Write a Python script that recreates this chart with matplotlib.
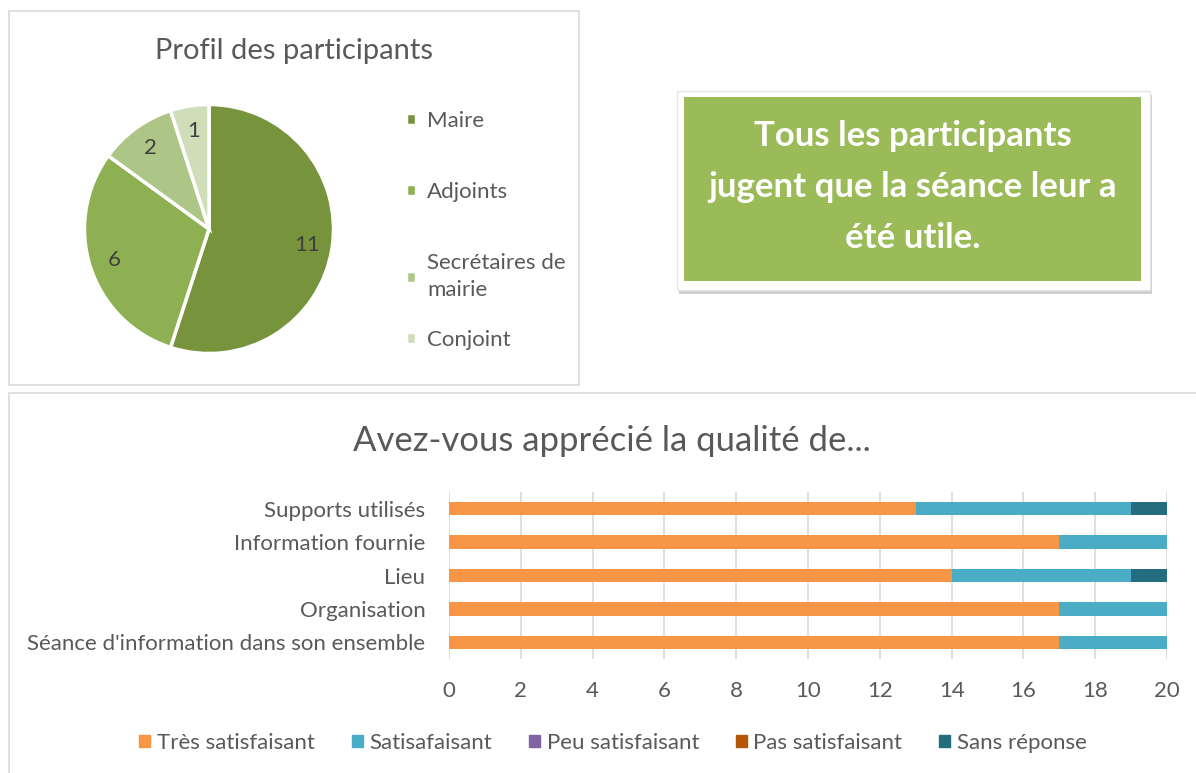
import matplotlib
matplotlib.use("Agg")
import matplotlib.pyplot as plt
from matplotlib.patches import Rectangle, Patch

plt.rcParams["font.family"] = ["Lato", "DejaVu Sans"]

# ---------------- Données ----------------
profil_labels = ["Maire", "Adjoints", "Secrétaires de\nmairie", "Conjoint"]
profil_values = [11, 6, 2, 1]
profil_colors = ["#77933C", "#8FB052", "#ADC688", "#CFDDB9"]

categories = ["Supports utilisés", "Information fournie", "Lieu",
              "Organisation", "Séance d'information dans son ensemble"]
tres_satisfaisant = [13, 17, 14, 17, 17]
satisfaisant = [6, 3, 5, 3, 3]
peu_satisfaisant = [0, 0, 0, 0, 0]
pas_satisfaisant = [0, 0, 0, 0, 0]
sans_reponse = [1, 0, 1, 0, 0]
series_names = ["Très satisfaisant", "Satisafaisant", "Peu satisfaisant",
                "Pas satisfaisant", "Sans réponse"]
series_colors = ["#F79646", "#4BACC6", "#8064A2", "#B65708", "#256C7E"]

TXT = "#595959"
W, H = 1196, 773


def px(x0, y0, x1, y1):
    # rectangle en pixels (origine en haut) -> coordonnées figure
    return [x0 / W, 1 - y1 / H, (x1 - x0) / W, (y1 - y0) / H]


fig = plt.figure(figsize=(W / 100, H / 100), dpi=100)

# cadres des graphiques
for x0, y0, x1, y1 in [(9, 11, 579, 385), (9, 393, 1200, 780)]:
    l, b, w, h = px(x0, y0, x1, y1)
    fig.add_artist(Rectangle((l, b), w, h, transform=fig.transFigure,
                             fill=False, ec="#D9D9D9", lw=1.2))

# ---------------- Camembert ----------------
ax_pie = fig.add_axes(px(82, 102, 336, 356))
wedges, texts = ax_pie.pie(profil_values, colors=profil_colors, startangle=90,
                           counterclock=False, labels=[str(v) for v in profil_values],
                           labeldistance=0.8,
                           wedgeprops=dict(edgecolor="white", linewidth=2.5),
                           textprops=dict(color="#404040", fontsize=16))
for t in texts:
    t.set_ha("center")
    t.set_va("center")
ax_pie.set_xlim(-1.02, 1.02)
ax_pie.set_ylim(-1.02, 1.02)
ax_pie.set_aspect("equal")
fig.text(294 / W, 1 - 51 / H, "Profil des participants", ha="center", va="center",
         fontsize=21, color=TXT)

# légende : trois premières entrées, puis "Conjoint" à part (espacement façon Excel)
leg_kw = dict(frameon=False, fontsize=16, labelcolor=TXT, handlelength=0.45,
              handleheight=0.45, handletextpad=0.5)
leg = fig.legend(wedges[:3], profil_labels[:3], loc="upper left",
                 bbox_to_anchor=(386 / W, 1 - 91 / H), labelspacing=2.3, **leg_kw)
for t in leg.get_texts():
    t.set_linespacing(1.45)
fig.legend(wedges[3:], profil_labels[3:], loc="center left",
           bbox_to_anchor=(386 / W, 1 - 340 / H), **leg_kw)

# ---------------- Encadré vert ----------------
l, b, w, h = px(677, 91, 1150, 290)
fig.add_artist(Rectangle((l + 2 / W, b - 4 / H), w, h, transform=fig.transFigure,
                         fc="#CFCFCF", ec="none"))
fig.add_artist(Rectangle((l, b), w, h, transform=fig.transFigure,
                         fc="white", ec="#E6E6E6", lw=1))
l, b, w, h = px(684, 97, 1141, 281)
fig.add_artist(Rectangle((l, b), w, h, transform=fig.transFigure,
                         fc="#9BBB59", ec="none"))
fig.text((684 + 1141) / 2 / W, 1 - 187 / H,
         "Tous les participants\njugent que la séance leur a\nété utile.",
         ha="center", va="center", color="white", fontsize=25, fontweight="bold",
         linespacing=1.75)

# ---------------- Barres empilées ----------------
ax = fig.add_axes(px(449, 492, 1167, 659))
ypos = list(range(len(categories)))[::-1]
left = [0] * len(categories)
all_series = [tres_satisfaisant, satisfaisant, peu_satisfaisant,
              pas_satisfaisant, sans_reponse]
handles = []
for vals, name, col in zip(all_series, series_names, series_colors):
    ax.barh(ypos, vals, left=left, height=0.4, color=col, zorder=3)
    left = [a + b for a, b in zip(left, vals)]
    handles.append(Patch(color=col, label=name))

ax.set_xlim(0, 20)
ax.set_ylim(-0.5, len(categories) - 0.5)
ax.set_xticks(range(0, 21, 2))
ax.set_yticks(ypos)
ax.set_yticklabels(categories)
ax.grid(axis="x", color="#D9D9D9", lw=1.2, zorder=0)
for s in ax.spines.values():
    s.set_visible(False)
ax.tick_params(length=0, labelsize=16, colors=TXT)
ax.tick_params(axis="y", pad=17)
ax.tick_params(axis="x", pad=16)

fig.text(612 / W, 1 - 441 / H, "Avez-vous apprécié la qualité de...", ha="center",
         va="center", fontsize=25, color=TXT)
fig.legend(handles=handles, loc="center", bbox_to_anchor=(613 / W, 1 - 743 / H),
           ncol=5, frameon=False, fontsize=16, labelcolor=TXT, handlelength=0.5,
           handleheight=0.5, handletextpad=0.3, columnspacing=1.65)

fig.savefig("out.png", dpi=100, facecolor="white")
